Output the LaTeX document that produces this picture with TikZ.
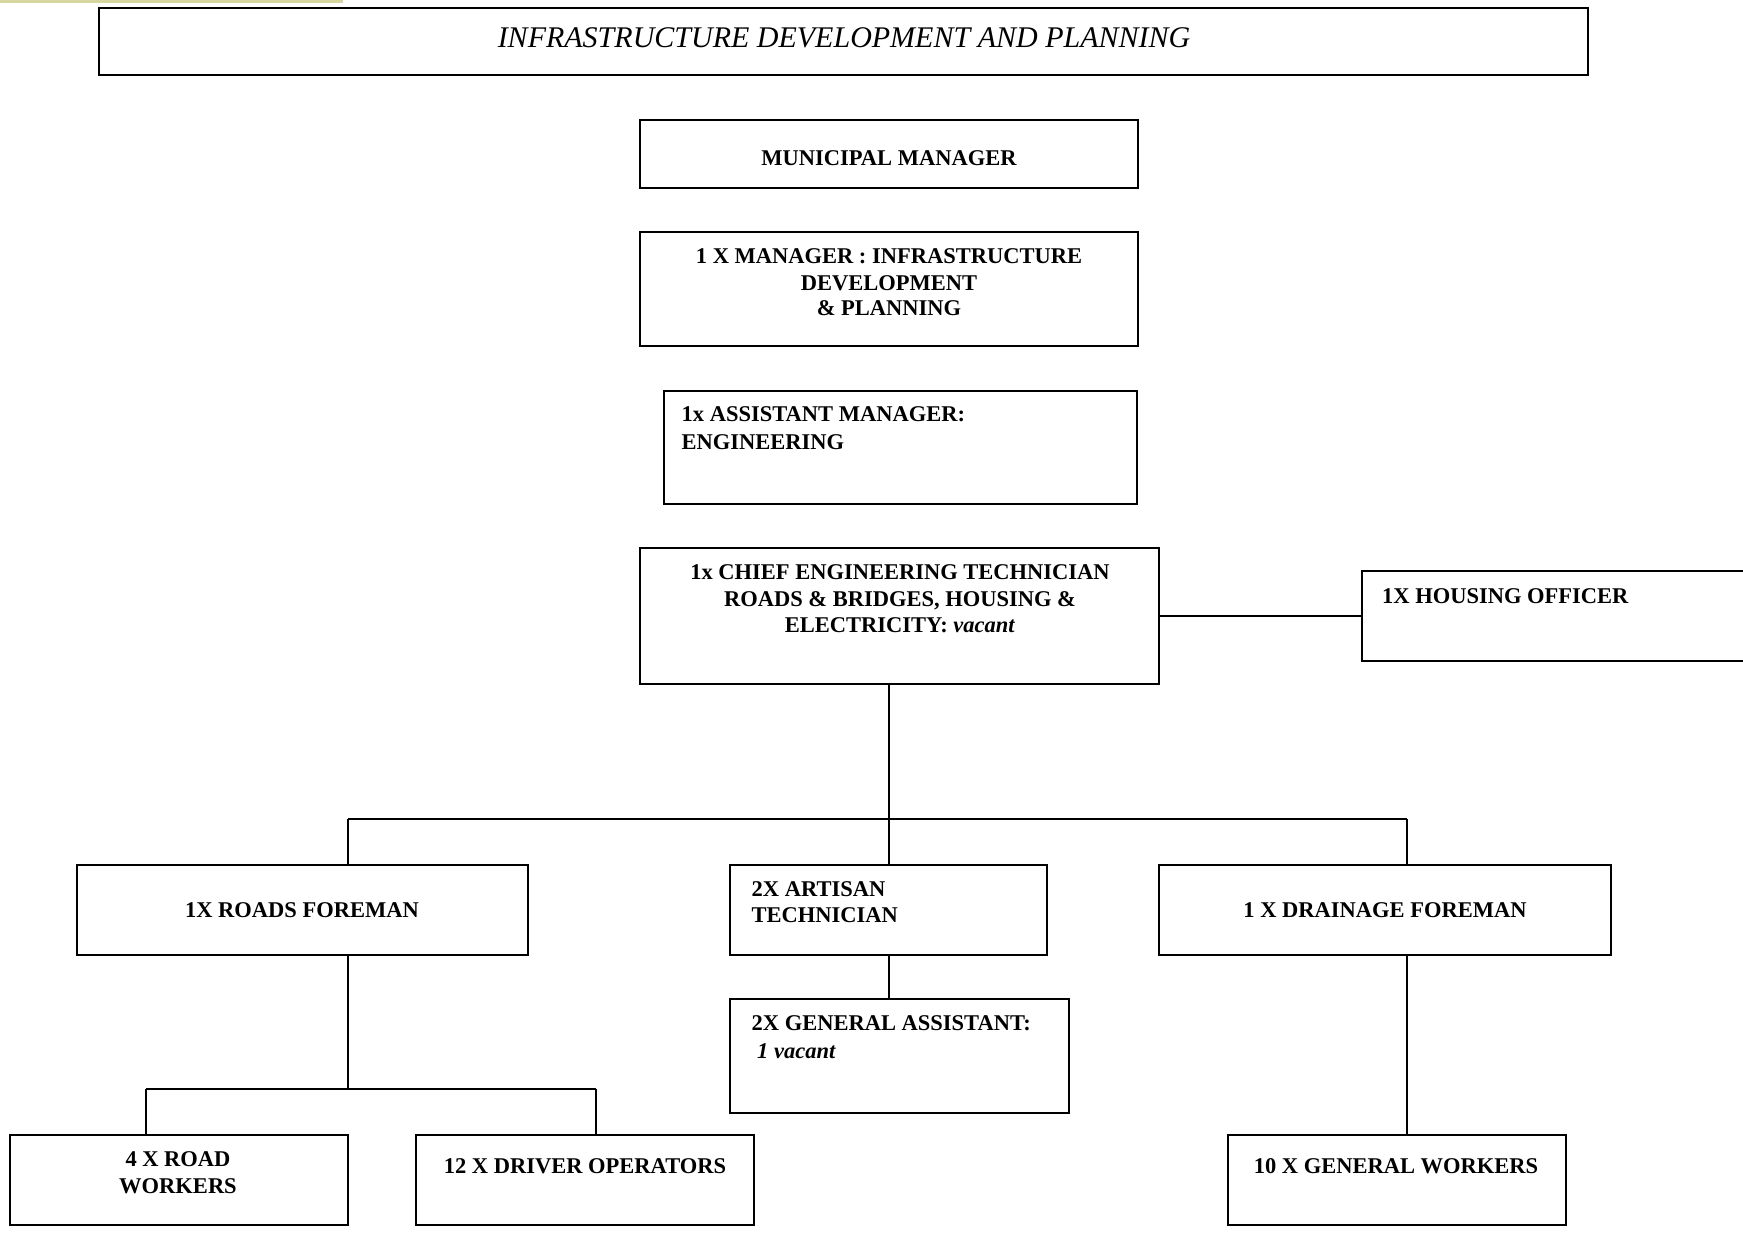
\documentclass[tikz,border=0pt]{standalone}
\usepackage{fontspec}
\setmainfont{Liberation Serif}
\definecolor{paleolive}{RGB}{214,214,160}
\begin{document}
\begin{tikzpicture}[x=1pt,y=-1pt,
  box/.style={draw,line width=1.8pt,inner sep=0pt,outer sep=0pt},
  link/.style={draw,line width=1.6pt},
  lbl/.style={font=\fontsize{22.5}{27}\selectfont\bfseries,inner sep=0pt,anchor=base},
  lbll/.style={lbl,anchor=base west}]
\clip (0,0) rectangle (1743,1234);
\fill[white] (0,0) rectangle (1743,1234);
% top decorative line
\fill[paleolive] (0,0) rectangle (343,2.5);

% title
\node[box,minimum width=1489,minimum height=67] (title) at (843.5,41.5) {};
\node[font=\fontsize{30}{36}\selectfont\itshape,inner sep=0pt,anchor=base] (titletext) at (844,47) {INFRASTRUCTURE DEVELOPMENT AND PLANNING};

% boxes
\node[box,minimum width=498,minimum height=68] (mm) at (889,154) {};
\node[box,minimum width=498,minimum height=114] (mgr) at (889,289) {};
\node[box,minimum width=473,minimum height=113] (asst) at (900.5,447.5) {};
\node[box,minimum width=519,minimum height=136] (chief) at (899.5,616) {};
\node[box,minimum width=400,minimum height=90] (housing) at (1562,616) {};
\node[box,minimum width=451,minimum height=90] (roads) at (302.5,910) {};
\node[box,minimum width=317,minimum height=90] (artisan) at (888.5,910) {};
\node[box,minimum width=452,minimum height=90] (drain) at (1385,910) {};
\node[box,minimum width=339,minimum height=114] (genasst) at (899.5,1056) {};
\node[box,minimum width=338,minimum height=90] (roadw) at (179,1180) {};
\node[box,minimum width=338,minimum height=90] (driver) at (585,1180) {};
\node[box,minimum width=338,minimum height=90] (genw) at (1397,1180) {};

% labels
\node[lbl] (mmt) at (889,165.6) {MUNICIPAL MANAGER};
\node[lbl] (mgrt1) at (889,263.5) {1 X MANAGER : INFRASTRUCTURE};
\node[lbl] (mgrt2) at (889,290) {DEVELOPMENT};
\node[lbl] (mgrt3) at (889,315.7) {\& PLANNING};
\node[lbll] (asstt1) at (681.5,421) {1x ASSISTANT MANAGER:};
\node[lbll] (asstt2) at (681.5,449) {ENGINEERING};
\node[lbl] (chieft1) at (900,579) {1x CHIEF ENGINEERING TECHNICIAN};
\node[lbl] (chieft2) at (900,606) {ROADS \& BRIDGES, HOUSING \&};
\node[lbl] (chieft3) at (900,632) {ELECTRICITY: \textit{vacant}};
\node[lbll] (housingt) at (1382,603.6) {1X HOUSING OFFICER};
\node[lbl] (roadst) at (302,917) {1X ROADS FOREMAN};
\node[lbll] (artt1) at (751.5,896) {2X ARTISAN};
\node[lbll] (artt2) at (751.5,922.6) {TECHNICIAN};
\node[lbl] (draint) at (1385,917) {1 X DRAINAGE FOREMAN};
\node[lbll] (gat1) at (751.5,1030.5) {2X GENERAL ASSISTANT:};
\node[lbll] (gat2) at (757,1058.3) {\textit{1 vacant}};
\node[lbl] (rwt1) at (178,1166) {4 X ROAD};
\node[lbl] (rwt2) at (178,1193) {WORKERS};
\node[lbl] (drt) at (585,1173) {12 X DRIVER OPERATORS};
\node[lbl] (gwt) at (1396,1173) {10 X GENERAL WORKERS};

% connector coordinates
\coordinate (bus) at (889,819);
\coordinate (busL) at (348,819);
\coordinate (busR) at (1407,819);
\coordinate (rbus) at (348,1089);
\coordinate (rbusL) at (146,1089);
\coordinate (rbusR) at (596,1089);

% connectors
\draw[link] (chief.east) -- (housing.west);
\draw[link] (chief.south -| bus) -- (bus);
\draw[link] (busL) -- (busR);
\draw[link] (busL) -- (roads.north -| busL);
\draw[link] (bus) -- (artisan.north -| bus);
\draw[link] (busR) -- (drain.north -| busR);
\draw[link] (artisan.south -| bus) -- (genasst.north -| bus);
\draw[link] (roads.south -| rbus) -- (rbus);
\draw[link] (rbusL) -- (rbusR);
\draw[link] (rbusL) -- (roadw.north -| rbusL);
\draw[link] (rbusR) -- (driver.north -| rbusR);
\draw[link] (drain.south -| busR) -- (genw.north -| busR);
\end{tikzpicture}
\end{document}
